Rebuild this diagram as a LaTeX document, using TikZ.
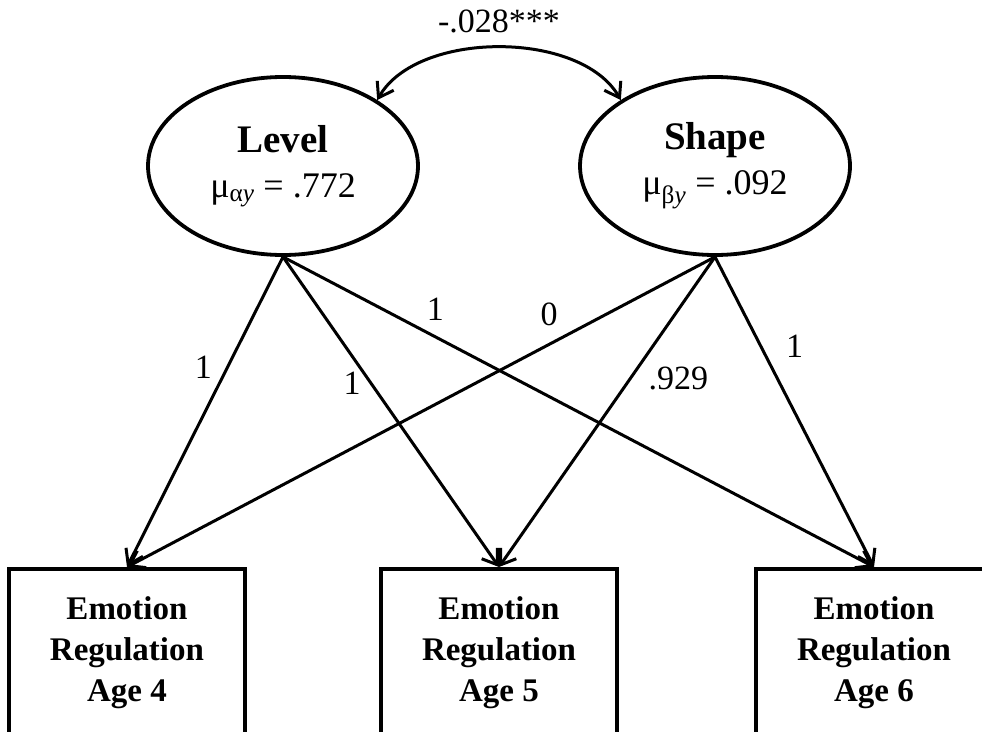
\documentclass[tikz,border=0pt]{standalone}
\usepackage{fontspec}
\setmainfont{Liberation Serif}
\usetikzlibrary{arrows.meta,shapes.geometric}
\begin{document}
\begin{tikzpicture}[x=1pt,y=-1pt,
  latent/.style={ellipse, draw, line width=3.8pt, minimum width=270pt, minimum height=178pt, inner sep=0pt, align=center, font=\fontsize{36}{45}\selectfont},
  obsbox/.style={rectangle, draw, line width=4pt, minimum width=236pt, minimum height=168pt, inner sep=0pt, align=center, font=\fontsize{33}{41}\selectfont\bfseries},
  loadarr/.style={line width=3pt, -{Straight Barb[length=14pt,width=19pt]}},
  covarr/.style={line width=3pt, {Straight Barb[length=14pt,width=19pt]}-{Straight Barb[length=14pt,width=19pt]}},
  lbl/.style={font=\fontsize{34}{36}\selectfont, inner sep=0pt},
]
\useasboundingbox (0,0) rectangle (982,731);
\clip (0,0) rectangle (982,731);

\node[latent] (L) at (283,166) {{\fontsize{39}{45}\selectfont\bfseries Level}\\μ\textsubscript{α\textit{y}} = .772};
\node[latent] (S) at (715,166) {{\fontsize{39}{45}\selectfont\bfseries Shape}\\μ\textsubscript{β\textit{y}} = .092};

\node[obsbox] (b1) at (127,653) {Emotion\\Regulation\\Age 4};
\node[obsbox] (b2) at (499,653) {Emotion\\Regulation\\Age 5};
\node[obsbox] (b3) at (874,653) {Emotion\\Regulation\\Age 6};

\draw[covarr] (L.35) .. controls +(40,-70) and +(-40,-70) .. node[lbl, pos=0.5, yshift=26pt] (cov) {-.028***} (S.145);

\draw[loadarr] (L.south) -- node[lbl, pos=0.357, xshift=-24pt] (l1) {1} (b1.north);
\draw[loadarr] (L.south) -- node[lbl, pos=0.408, xshift=-19pt] (l2) {1} (b2.north);
\draw[loadarr] (L.south) -- node[lbl, pos=0.258, yshift=28pt] (l3) {1} (b3.north);
\draw[loadarr] (S.south) -- node[lbl, pos=0.282, yshift=30pt] (s1) {0} (b1.north);
\draw[loadarr] (S.south) -- node[lbl, pos=0.392, xshift=48pt] (s2) {.929} (b2.north);
\draw[loadarr] (S.south) -- node[lbl, pos=0.287, xshift=34pt] (s3) {1} (b3.north);
\end{tikzpicture}
\end{document}
